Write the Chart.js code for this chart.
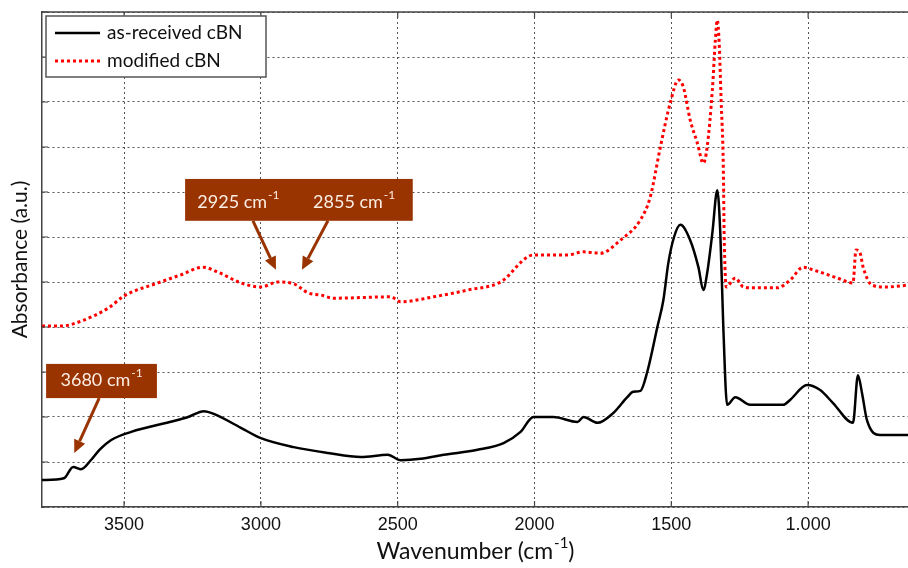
<!DOCTYPE html>
<html>
<head>
<meta charset="utf-8">
<script src="https://cdn.jsdelivr.net/npm/chart.js@4.4.1/dist/chart.umd.min.js"></script>
<style>
  html, body { margin: 0; padding: 0; background: #fff; }
  #wrap { width: 908px; height: 568px; }
</style>
</head>
<body>
<div id="wrap"><canvas id="ftir" width="908" height="568"></canvas></div>
<script>
// Espectros FTIR (cBN)
const seriesNames = ['as-received cBN', 'modified cBN'];

const receivedWn = [3800, 3720, 3686, 3657, 3620, 3590, 3547, 3474, 3318, 3266, 3208, 3172, 3073, 3000, 2880, 2755, 2635, 2536, 2489, 2416, 2332, 2208, 2113, 2051, 2004, 1931, 1843, 1821, 1770, 1712, 1661, 1639, 1613, 1588, 1551, 1529, 1511, 1490, 1467, 1431, 1401, 1383, 1369, 1350, 1332, 1321, 1310, 1296, 1266, 1212, 1091, 1066, 1004, 956, 909, 836, 818, 803, 785, 737, 635];
const receivedAbs = [0.60, 0.64, 0.89, 0.84, 1.05, 1.27, 1.49, 1.67, 1.91, 2.00, 2.13, 2.07, 1.76, 1.53, 1.33, 1.20, 1.11, 1.16, 1.04, 1.07, 1.16, 1.27, 1.42, 1.67, 2.00, 2.00, 1.89, 2.00, 1.87, 2.09, 2.44, 2.56, 2.58, 3.00, 4.00, 4.60, 5.42, 6.00, 6.27, 5.93, 5.33, 4.82, 5.20, 6.09, 7.04, 6.09, 4.00, 2.27, 2.44, 2.27, 2.27, 2.38, 2.71, 2.60, 2.31, 1.87, 2.93, 2.53, 1.93, 1.60, 1.60];

const modifiedWn = [3800, 3730, 3657, 3558, 3500, 3376, 3292, 3212, 3157, 3073, 3000, 2938, 2880, 2828, 2781, 2734, 2526, 2489, 2369, 2245, 2124, 2004, 1880, 1821, 1759, 1686, 1613, 1577, 1540, 1504, 1474, 1456, 1431, 1405, 1383, 1369, 1350, 1339, 1332, 1325, 1318, 1310, 1307, 1299, 1266, 1237, 1201, 1113, 1066, 1018, 982, 894, 836, 825, 810, 799, 766, 712, 635];
const modifiedAbs = [4.02, 4.02, 4.13, 4.42, 4.69, 4.98, 5.16, 5.33, 5.22, 4.98, 4.89, 5.00, 4.96, 4.76, 4.71, 4.64, 4.67, 4.56, 4.67, 4.82, 5.00, 5.60, 5.60, 5.67, 5.64, 5.93, 6.38, 6.89, 8.00, 8.98, 9.49, 9.33, 8.60, 8.09, 7.64, 8.00, 9.27, 10.38, 10.82, 10.30, 9.04, 7.56, 6.09, 4.89, 5.09, 4.89, 4.87, 4.87, 5.04, 5.33, 5.27, 5.09, 4.98, 5.71, 5.64, 5.33, 4.93, 4.89, 4.93];

const xTicks = [3500, 3000, 2500, 2000, 1500, 1000];
const xTickLabels = ['3500', '3000', '2500', '2000', '1500', '1.000'];
const yTicks = [0, 1, 2, 3, 4, 5, 6, 7, 8, 9, 10, 11];

function pares(xs, ys) {
    return xs.map((x, i) => ({ x: x, y: ys[i] }));
}

// anotações (em unidades dos eixos)
const notas = [
    { box: [3277, 2445, 7.29, 6.36], labels: [['2925', 3084, 6.78], ['2855', 2661, 6.78]],
      arrows: [[3029, 6.36, 2945, 5.27], [2755, 6.36, 2850, 5.27]] },
    { box: [3785, 3380, 3.18, 2.42], labels: [['3680', 3584, 2.82]],
      arrows: [[3591, 2.42, 3682, 1.20]] }
];

const marrom = '#993300';

function textoSup(ctx, base, sup, cx, cy, size, family, color) {
    ctx.fillStyle = color;
    ctx.textBaseline = 'middle';
    ctx.textAlign = 'left';
    ctx.font = size + 'px ' + family;
    const w1 = ctx.measureText(base).width;
    ctx.font = Math.round(size * 0.65) + 'px ' + family;
    const w2 = ctx.measureText(sup).width;
    let x = cx - (w1 + w2) / 2;
    ctx.font = size + 'px ' + family;
    ctx.fillText(base, x, cy);
    ctx.font = Math.round(size * 0.65) + 'px ' + family;
    ctx.fillText(sup, x + w1 + 1, cy - size * 0.38);
    return x + w1 + w2 + 1;
}

function seta(ctx, x1, y1, x2, y2) {
    const ang = Math.atan2(y2 - y1, x2 - x1);
    const hl = 13, hw = 6;
    const bx = x2 - hl * Math.cos(ang), by = y2 - hl * Math.sin(ang);
    ctx.strokeStyle = marrom;
    ctx.fillStyle = marrom;
    ctx.lineWidth = 3;
    ctx.beginPath();
    ctx.moveTo(x1, y1);
    ctx.lineTo(bx, by);
    ctx.stroke();
    ctx.beginPath();
    ctx.moveTo(x2, y2);
    ctx.lineTo(bx + hw * Math.sin(ang), by - hw * Math.cos(ang));
    ctx.lineTo(bx - hw * Math.sin(ang), by + hw * Math.cos(ang));
    ctx.closePath();
    ctx.fill();
}

const molduraPlugin = {
    id: 'moldura',
    afterDraw(chart) {
        const ctx = chart.ctx;
        const a = chart.chartArea;
        const sx = chart.scales.x, sy = chart.scales.y;
        ctx.save();
        // moldura superior e marcas internas
        ctx.strokeStyle = '#444';
        ctx.lineWidth = 1.5;
        ctx.beginPath();
        ctx.moveTo(a.left, a.top);
        ctx.lineTo(a.right, a.top);
        ctx.stroke();
        ctx.lineWidth = 1.2;
        ctx.beginPath();
        yTicks.forEach(v => {
            const y = sy.getPixelForValue(v);
            ctx.moveTo(a.left, y);
            ctx.lineTo(a.left + 6, y);
        });
        xTicks.forEach(v => {
            const x = sx.getPixelForValue(v);
            ctx.moveTo(x, a.top);
            ctx.lineTo(x, a.top + 6);
            ctx.moveTo(x, a.bottom);
            ctx.lineTo(x, a.bottom - 6);
        });
        ctx.stroke();

        // anotações
        notas.forEach(n => {
            const bx1 = sx.getPixelForValue(n.box[0]), bx2 = sx.getPixelForValue(n.box[1]);
            const by1 = sy.getPixelForValue(n.box[2]), by2 = sy.getPixelForValue(n.box[3]);
            ctx.fillStyle = marrom;
            ctx.fillRect(bx1, by1, bx2 - bx1, by2 - by1);
            n.labels.forEach(l => {
                textoSup(ctx, l[0] + ' cm', '-1', sx.getPixelForValue(l[1]), sy.getPixelForValue(l[2]), 18, 'Lato, "Open Sans", sans-serif', '#fbeee4');
            });
            n.arrows.forEach(s => {
                seta(ctx, sx.getPixelForValue(s[0]), sy.getPixelForValue(s[1]),
                     sx.getPixelForValue(s[2]), sy.getPixelForValue(s[3]));
            });
        });

        // legenda com caixa
        const lx = a.left + 4, ly = a.top + 4;
        ctx.fillStyle = '#fff';
        ctx.fillRect(lx, ly, 220, 61);
        ctx.strokeStyle = '#555';
        ctx.lineWidth = 1.5;
        ctx.strokeRect(lx, ly, 220, 61);
        chart.data.datasets.forEach((ds, i) => {
            const y = ly + 17 + i * 28;
            ctx.strokeStyle = ds.borderColor;
            ctx.lineWidth = ds.borderWidth;
            ctx.setLineDash(ds.borderDash || []);
            ctx.beginPath();
            ctx.moveTo(lx + 9, y);
            ctx.lineTo(lx + 54, y);
            ctx.stroke();
            ctx.setLineDash([]);
            ctx.fillStyle = '#111';
            ctx.font = '19px Lato, "Open Sans", sans-serif';
            ctx.textAlign = 'left';
            ctx.textBaseline = 'middle';
            ctx.fillText(ds.label, lx + 61, y);
        });

        // título do eixo x com sobrescrito
        const cx = (a.left + a.right) / 2;
        const fam = 'Lato, "Open Sans", sans-serif';
        ctx.font = '23px ' + fam;
        const wPar = ctx.measureText(')').width;
        const fim = textoSup(ctx, 'Wavenumber (cm', '-1', cx - wPar / 2, 552, 23, fam, '#111');
        ctx.font = '23px ' + fam;
        ctx.fillText(')', fim, 552);
        ctx.restore();
    }
};

const grafico = new Chart(document.getElementById('ftir'), {
    type: 'line',
    data: {
        datasets: [{
            label: seriesNames[0],
            data: pares(receivedWn, receivedAbs),
            borderColor: '#000',
            borderWidth: 2.5,
            pointRadius: 0,
            cubicInterpolationMode: 'monotone',
            fill: false
        }, {
            label: seriesNames[1],
            data: pares(modifiedWn, modifiedAbs),
            borderColor: '#ff0000',
            borderWidth: 3,
            borderDash: [3, 3],
            borderCapStyle: 'butt',
            pointRadius: 0,
            cubicInterpolationMode: 'monotone',
            fill: false
        }]
    },
    options: {
        responsive: false,
        animation: false,
        devicePixelRatio: 1,
        layout: { padding: { top: 12, left: 0, right: 0, bottom: 0 } },
        plugins: {
            legend: { display: false },
            tooltip: { enabled: false },
            title: { display: false }
        },
        scales: {
            x: {
                type: 'linear',
                reverse: true,
                min: 635,
                max: 3800,
                afterBuildTicks: s => { s.ticks = xTicks.map(v => ({ value: v })); },
                afterFit: s => { s.height = 61; },
                ticks: {
                    autoSkip: false,
                    maxRotation: 0,
                    padding: 7,
                    color: '#111',
                    font: { family: '"Liberation Sans", Arial', size: 18 },
                    callback: v => xTickLabels[xTicks.indexOf(v)]
                },
                grid: { color: '#555', lineWidth: 1, drawTicks: false },
                border: { display: true, color: '#444', width: 1.5, dash: [2, 3] }
            },
            y: {
                min: 0,
                max: 11,
                afterBuildTicks: s => { s.ticks = yTicks.map(v => ({ value: v })); },
                afterFit: s => { s.width = 42; },
                ticks: { display: false },
                grid: { color: '#555', lineWidth: 1, drawTicks: false },
                border: { display: true, color: '#444', width: 1.5, dash: [2, 3] },
                title: {
                    display: true,
                    text: 'Absorbance (a.u.)',
                    color: '#111',
                    font: { family: 'Lato, "Open Sans", sans-serif', size: 21 },
                    padding: { top: 8, bottom: 0 }
                }
            }
        }
    },
    plugins: [molduraPlugin]
});
</script>
</body>
</html>
